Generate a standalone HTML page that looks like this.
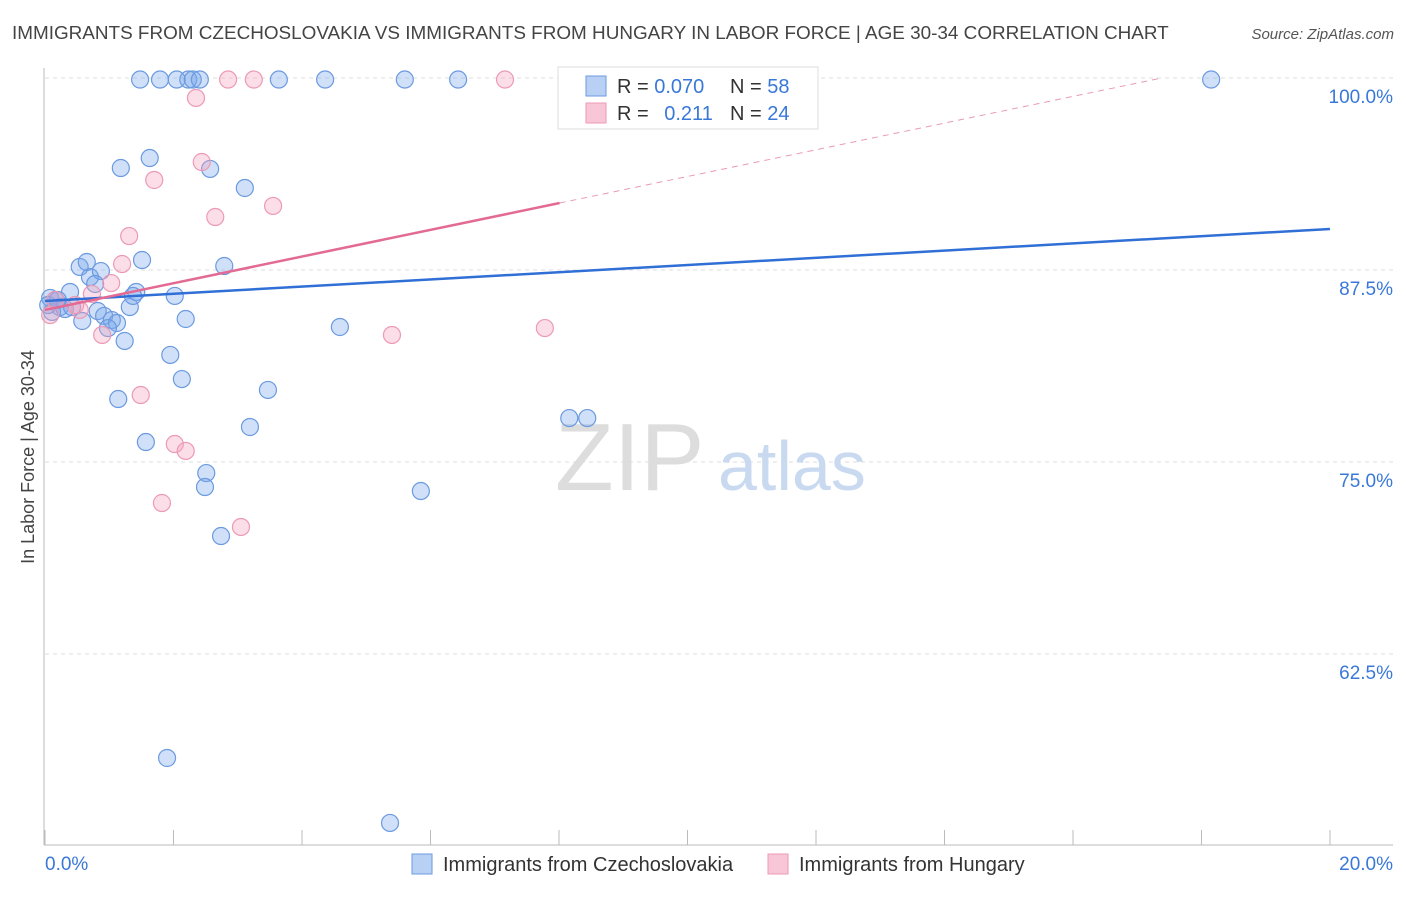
<!DOCTYPE html>
<html><head><meta charset="utf-8">
<style>
body{margin:0;background:#fff;font-family:"Liberation Sans",sans-serif;}
svg text{font-family:"Liberation Sans",sans-serif;}
</style></head>
<body>
<svg id="chart" width="1406" height="892" xmlns="http://www.w3.org/2000/svg">
<text x="12" y="39" font-size="18.9" fill="#444">IMMIGRANTS FROM CZECHOSLOVAKIA VS IMMIGRANTS FROM HUNGARY IN LABOR FORCE | AGE 30-34 CORRELATION CHART</text>
<text x="1394" y="39" font-size="15" fill="#555" font-style="italic" text-anchor="end">Source: ZipAtlas.com</text>
<text x="34" y="457" font-size="18" fill="#444" text-anchor="middle" transform="rotate(-90 34 457)">In Labor Force | Age 30-34</text>
<g id="grid"></g>
<g id="axes"></g>
<text x="555" y="490" font-size="96" fill="#ddd" font-family="Liberation Serif">ZIP</text>
<text x="718" y="490" font-size="70" fill="#c8d9f0">atlas</text>
<g id="pts"></g>
<g id="lines"></g>
<g>
<rect x="558" y="67" width="260" height="62" fill="#fff" stroke="#ddd"/>
<rect x="586" y="76" width="20" height="20" fill="#b8d0f3" stroke="#6b9ae0"/>
<rect x="586" y="103" width="20" height="20" fill="#f8c6d6" stroke="#ec9ab5"/>
<text x="617" y="93" font-size="20" fill="#333">R = <tspan fill="#3a78d8">0.070</tspan></text>
<text x="730" y="93" font-size="20" fill="#333">N = <tspan fill="#3a78d8">58</tspan></text>
<text x="617" y="120" font-size="20" fill="#333">R = <tspan fill="#3a78d8" dx="10">0.211</tspan></text>
<text x="730" y="120" font-size="20" fill="#333">N = <tspan fill="#3a78d8">24</tspan></text>
</g>
<g>
<rect x="412" y="854" width="20" height="20" fill="#b8d0f3" stroke="#6b9ae0"/>
<text x="443" y="871" font-size="20" fill="#333">Immigrants from Czechoslovakia</text>
<rect x="768" y="854" width="20" height="20" fill="#f8c6d6" stroke="#ec9ab5"/>
<text x="799" y="871" font-size="20" fill="#333">Immigrants from Hungary</text>
</g>
</svg>
<script>
const yTicks=[100,87.5,75,62.5];
const yTickLabels=["100.0%","87.5%","75.0%","62.5%"];
const xLabels=["0.0%","20.0%"];
const blueX=[1.48,1.79,2.05,2.23,2.30,2.41,3.64,4.36,5.60,6.43,18.15,1.63,1.18,2.57,3.11,1.51,0.54,0.65,0.70,0.87,0.78,2.79,0.39,0.08,0.16,0.23,0.11,0.31,0.42,0.82,0.92,0.58,1.04,1.12,0.98,1.32,1.42,1.37,2.02,2.19,1.24,4.59,1.95,2.13,3.47,1.14,3.19,1.57,8.16,8.44,2.51,2.49,5.85,2.74,1.90,5.37,0.05,0.20];
const blueY=[99.9,99.9,99.9,99.9,99.9,99.9,99.9,99.9,99.9,99.9,99.9,94.79,94.14,94.08,92.84,88.15,87.70,88.02,87.04,87.43,86.59,87.76,86.07,85.68,85.55,85.09,84.77,84.96,85.09,84.83,84.51,84.18,84.24,84.05,83.72,85.09,86.07,85.81,85.81,84.31,82.88,83.79,81.97,80.40,79.69,79.10,77.28,76.30,77.86,77.86,74.28,73.37,73.11,70.18,55.73,51.50,85.22,85.55];
const pinkX=[2.85,3.25,7.16,2.35,2.44,1.70,2.65,3.55,1.31,1.20,1.03,0.73,0.54,0.08,0.16,0.89,5.40,7.78,1.49,2.02,2.19,1.82,3.05,0.47];
const pinkY=[99.9,99.9,99.9,98.70,94.53,93.36,90.95,91.67,89.71,87.89,86.65,85.94,84.90,84.57,85.55,83.27,83.27,83.72,79.36,76.17,75.72,72.33,70.77,85.22];
const blueTrend=[85.48,90.17];
const pinkTrend=[84.9,91.86];
const pinkSolidEnd=8.01;

const NS="http://www.w3.org/2000/svg";
const X=v=>45+v/20*1285;
const Y=v=>78+(100-v)*15.36;
function mk(tag,attrs,parent){const e=document.createElementNS(NS,tag);for(const k in attrs)e.setAttribute(k,attrs[k]);parent.appendChild(e);return e;}
const grid=document.getElementById('grid'),axes=document.getElementById('axes'),pts=document.getElementById('pts'),lines=document.getElementById('lines');
yTicks.forEach((t,i)=>{
  const l=mk('line',{x1:45,x2:1393,y1:Y(t),y2:Y(t),stroke:'#ddd','stroke-dasharray':'4,4'},grid);
  
  
  const tx=mk('text',{x:1393,y:Y(t)+25,'font-size':19,fill:'#3a78d8','text-anchor':'end'},axes);
  tx.textContent=yTickLabels[i];
  
  
});
mk('line',{x1:44,x2:44,y1:68,y2:845,stroke:'#bbb'},axes);
mk('line',{x1:44,x2:1393,y1:845,y2:845,stroke:'#bbb'},axes);
for(let i=0;i<=10;i++){mk('line',{x1:X(i*2),x2:X(i*2),y1:830,y2:845,stroke:'#bbb'},axes);}
[[0,45,'start'],[1,1393,'end']].forEach(([i,x,a])=>{
  const t=mk('text',{x:x,y:870,'font-size':19,fill:'#3a78d8','text-anchor':a},axes);
  t.textContent=xLabels[i];
  
  
});
blueX.forEach((v,i)=>{
  const c=mk('circle',{cx:X(v),cy:Y(blueY[i]),r:8.5,fill:'rgba(120,165,235,0.35)',stroke:'#6b9ae0','stroke-width':1.2},pts);
  
  
});
pinkX.forEach((v,i)=>{
  const c=mk('circle',{cx:X(v),cy:Y(pinkY[i]),r:8.5,fill:'rgba(245,160,190,0.35)',stroke:'#ec9ab5','stroke-width':1.2},pts);
  
  
});
const bl=mk('line',{x1:X(0),y1:Y(blueTrend[0]),x2:X(20),y2:Y(blueTrend[1]),stroke:'#2f6fd6','stroke-width':2.5},lines);


const slope=(pinkTrend[1]-pinkTrend[0])/pinkSolidEnd;
const pl=mk('line',{x1:X(0),y1:Y(pinkTrend[0]),x2:X(pinkSolidEnd),y2:Y(pinkTrend[1]),stroke:'#e26a93','stroke-width':2.5},lines);


const xEnd=(100-pinkTrend[0])/slope;
const pd=mk('line',{x1:X(pinkSolidEnd),y1:Y(pinkTrend[1]),x2:X(xEnd),y2:Y(100),stroke:'#e99ab5','stroke-width':1,'stroke-dasharray':'6,5'},lines);


</script>
</body></html>
